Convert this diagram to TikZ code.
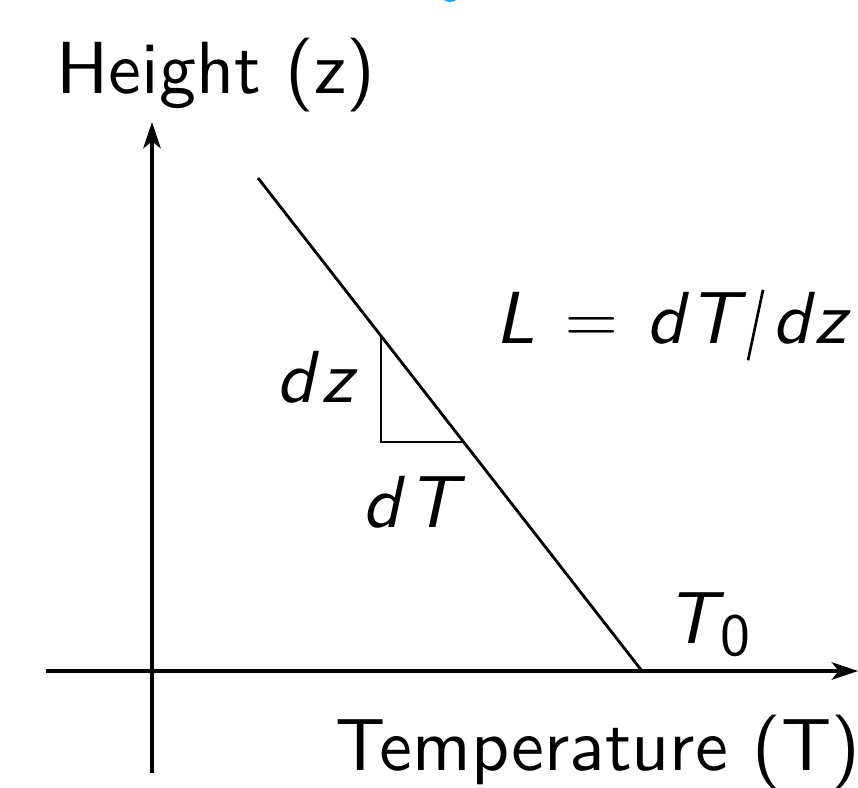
\documentclass[tikz,border=0pt]{standalone}
\usepackage{fontspec}
\setsansfont{lmsans10-regular.otf}[ItalicFont=lmsans10-oblique.otf]
\usepackage{tikz}
\usetikzlibrary{arrows.meta,positioning,calc}
\definecolor{lapseCyan}{HTML}{1FA3DC}
\newcommand{\sfvar}[1]{{\sffamily\itshape #1}}
\newcommand{\lapseslash}{\raisebox{-0.17cm}{\rotatebox{-12}{\rule{0.75pt}{0.72cm}}}}

\begin{document}
\begin{tikzpicture}[x=0.01cm,y=-0.01cm,
    font=\sffamily\fontsize{21}{25}\selectfont,
    axis/.style={line width=0.9pt,-{Stealth[length=7.5pt,width=5pt,inset=2pt]}},
    curve/.style={line width=0.8pt},
    lbl/.style={inner sep=0pt,anchor=base west}]
  \useasboundingbox (0,0) rectangle (858,787);
  % cut-off mark at the top edge
  \fill[lapseCyan] (450,-9) circle (11);
  % axes
  \coordinate (ybot) at (152,773);
  \coordinate (ytop) at (152,122);
  \coordinate (xleft) at (46,671);
  \coordinate (xright) at (858,671);
  \draw[axis] (ybot) -- (ytop);
  \draw[axis] (xleft) -- (xright);
  % lapse line and slope triangle
  \coordinate (ltop) at (258,178);
  \coordinate (t0) at (642,671);
  \coordinate (ta) at (381,336);
  \coordinate (tb) at (381,442);
  \coordinate (tc) at (463,442);
  \draw[curve] (ltop) -- (t0);
  \draw[curve] (ta) -- (tb) -- (tc);
  % labels
  \node[lbl] (ylab) at (56,93) {Height (z)};
  \node[lbl] (xlab) at (335,770) {Temperature (T)};
  \node[lbl] (lapse) at (495,343)
    {\sfvar{L}\kern0.3cm$=$\kern0.28cm\sfvar{d\kern0.04cm T}\kern0.08cm%
     \lapseslash\kern0.08cm\sfvar{d\kern0.04cm z}};
  \node[lbl] (dz) at (276,402) {\sfvar{d\kern2pt z}};
  \node[lbl] (dT) at (362,527) {\sfvar{d\kern2pt T}};
  \node[lbl] (tzero) at (666,643) {\sfvar{T}\kern1pt\raisebox{-3.5pt}{\fontsize{17}{20}\selectfont 0}};
\end{tikzpicture}
\end{document}
